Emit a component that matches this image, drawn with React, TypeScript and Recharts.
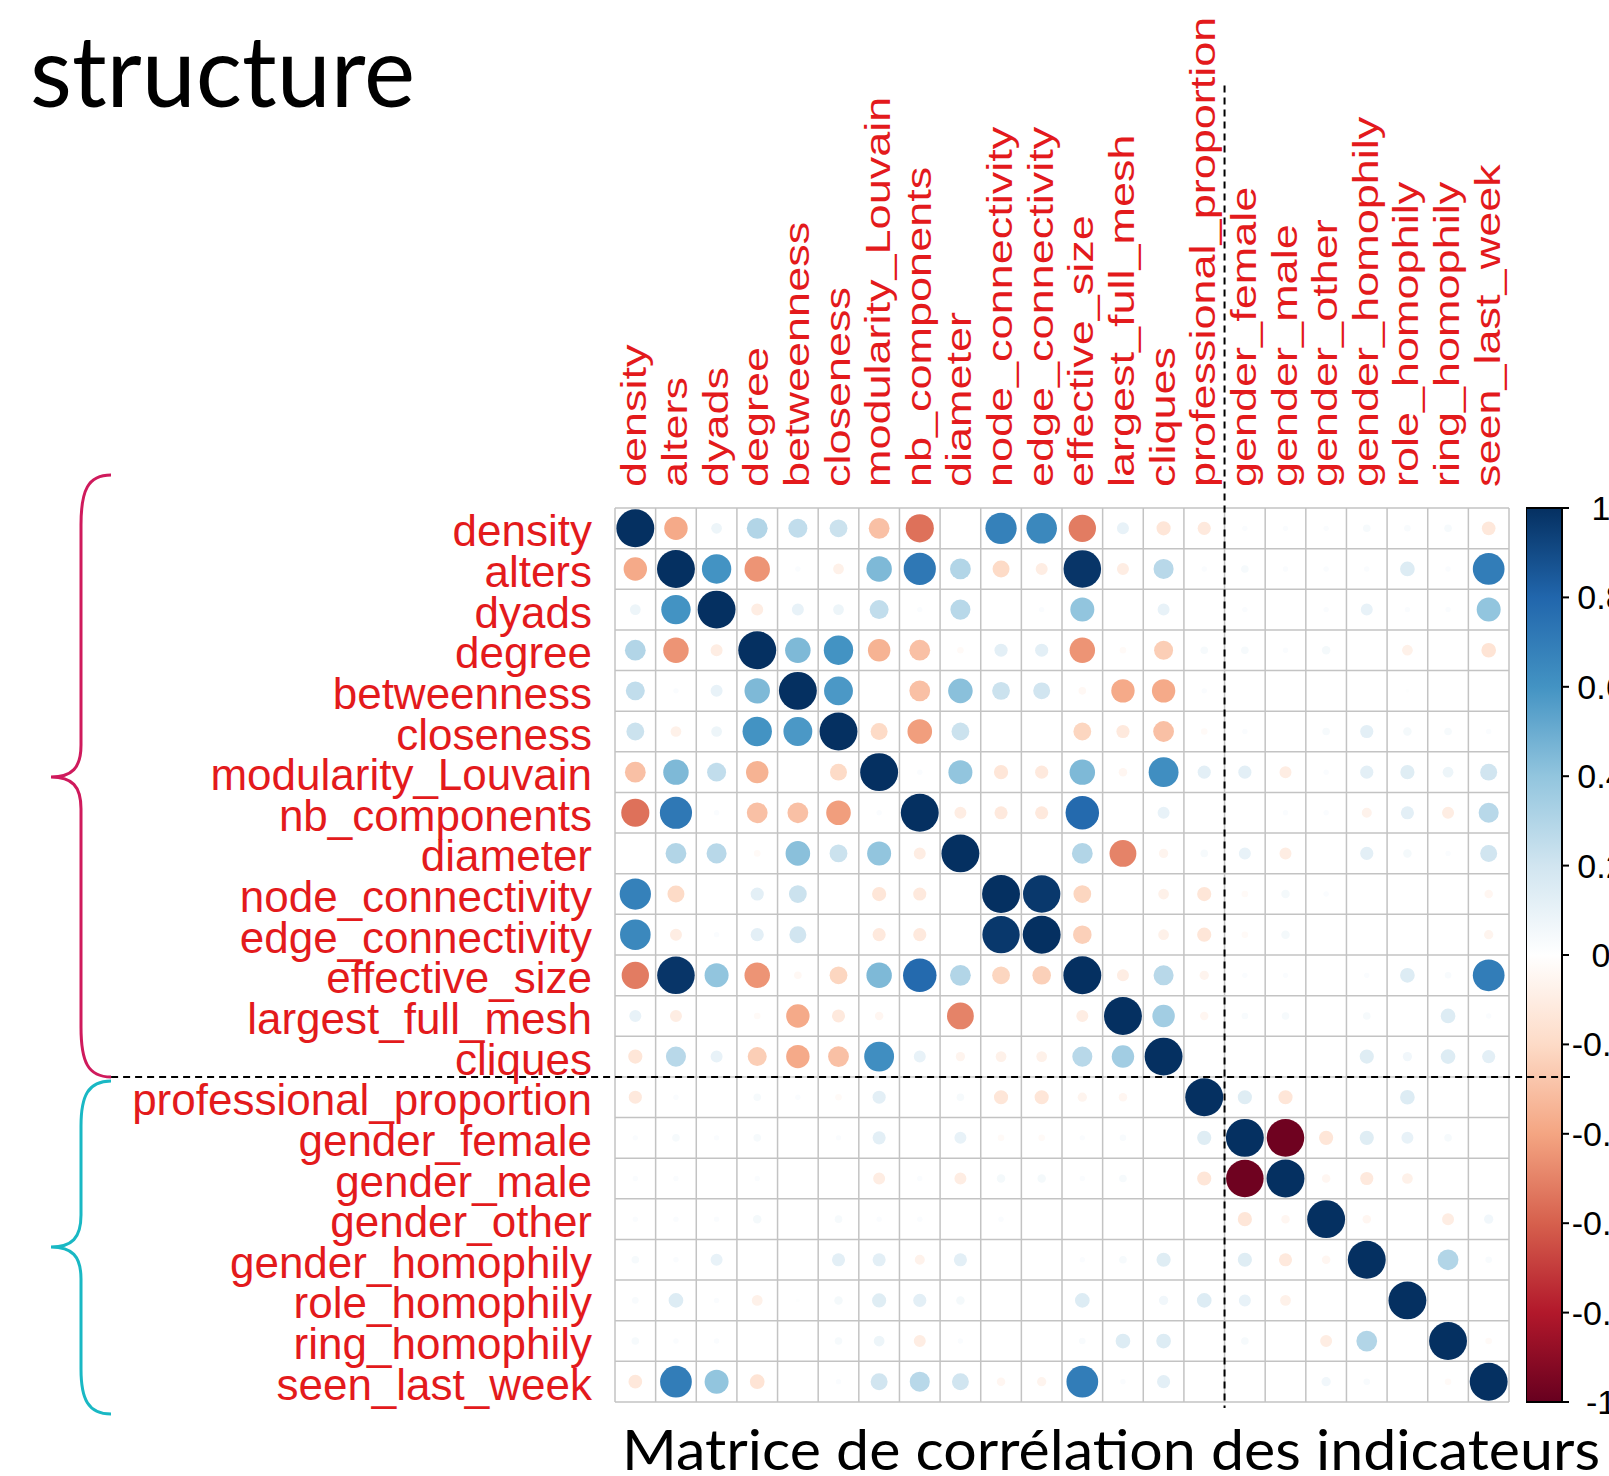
import React from "react";
import {
  ScatterChart,
  Scatter,
  XAxis,
  YAxis,
  ZAxis,
  CartesianGrid,
  ReferenceLine,
  Cell,
  BarChart,
  Bar,
} from "recharts";

const labels = [
  "density",
  "alters",
  "dyads",
  "degree",
  "betweenness",
  "closeness",
  "modularity_Louvain",
  "nb_components",
  "diameter",
  "node_connectivity",
  "edge_connectivity",
  "effective_size",
  "largest_full_mesh",
  "cliques",
  "professional_proportion",
  "gender_female",
  "gender_male",
  "gender_other",
  "gender_homophily",
  "role_homophily",
  "ring_homophily",
  "seen_last_week",
];

// one row of the correlation matrix per indicator
const density = [1, -0.38, 0.08, 0.3, 0.25, 0.22, -0.3, -0.55, 0, 0.68, 0.65, -0.52, 0.1, -0.14, -0.12, 0.02, 0.02, 0.02, 0.04, 0.03, 0.04, -0.13];
const alters = [-0.38, 1, 0.6, -0.45, 0.02, -0.08, 0.45, 0.72, 0.3, -0.2, -0.1, 0.98, -0.1, 0.28, 0.02, 0.04, 0.02, 0.02, 0.02, 0.15, 0.02, 0.7];
const dyads = [0.08, 0.6, 1, -0.1, 0.1, 0.08, 0.25, 0.02, 0.28, 0, 0.02, 0.4, 0, 0.1, 0, 0.02, 0, 0.02, 0.1, 0.02, 0.02, 0.4];
const degree = [0.3, -0.45, -0.1, 1, 0.45, 0.6, -0.35, -0.3, -0.03, 0.12, 0.12, -0.45, -0.03, -0.25, 0.04, 0.04, 0.02, 0.05, 0, -0.08, 0, -0.15];
const betweenness = [0.25, 0.02, 0.1, 0.45, 1, 0.58, 0, -0.3, 0.42, 0.22, 0.2, -0.04, -0.38, -0.38, 0.02, 0, 0, 0, 0, 0.01, 0, 0];
const closeness = [0.22, -0.08, 0.08, 0.6, 0.58, 1, -0.2, -0.42, 0.22, 0, 0, -0.22, -0.12, -0.3, -0.03, 0.02, 0, 0.04, 0.12, 0.05, 0.04, 0.02];
const modularityLouvain = [-0.3, 0.45, 0.25, -0.35, 0, -0.2, 1, 0.02, 0.4, -0.14, -0.12, 0.45, -0.05, 0.62, 0.12, 0.12, -0.1, 0.02, 0.12, 0.14, 0.08, 0.2];
const nbComponents = [-0.55, 0.72, 0.02, -0.3, -0.3, -0.42, 0.02, 1, -0.1, -0.12, -0.12, 0.78, 0, 0.1, 0, 0, 0.02, 0.02, -0.07, 0.12, -0.1, 0.28];
const diameter = [0, 0.3, 0.28, -0.03, 0.42, 0.22, 0.4, -0.1, 1, 0, 0, 0.3, -0.5, -0.06, 0.04, 0.1, -0.1, 0, 0.12, 0.05, 0.02, 0.2];
const nodeConnectivity = [0.68, -0.2, 0, 0.12, 0.22, 0, -0.14, -0.12, 0, 1, 0.97, -0.22, 0, -0.08, -0.14, -0.03, 0.05, 0.02, 0, 0, 0, -0.05];
const edgeConnectivity = [0.65, -0.1, 0.02, 0.12, 0.2, 0, -0.12, -0.12, 0, 0.97, 1, -0.24, 0, -0.08, -0.14, -0.03, 0.05, 0, 0, 0, 0, -0.06];
const effectiveSize = [-0.52, 0.98, 0.4, -0.45, -0.04, -0.22, 0.45, 0.78, 0.3, -0.22, -0.24, 1, -0.1, 0.28, -0.06, 0.02, 0.02, 0, 0.02, 0.15, 0.03, 0.7];
const largestFullMesh = [0.1, -0.1, 0, -0.03, -0.38, -0.12, -0.05, 0, -0.5, 0, 0, -0.1, 1, 0.35, -0.05, 0.03, 0.04, 0, 0.04, 0, 0.15, 0.02];
const cliques = [-0.14, 0.28, 0.1, -0.25, -0.38, -0.3, 0.62, 0.1, -0.06, -0.08, -0.08, 0.28, 0.35, 1, 0, 0, 0, 0, 0.14, 0.06, 0.15, 0.12];
const professionalProportion = [-0.12, 0.02, 0, 0.04, 0.02, -0.03, 0.12, 0, 0.04, -0.14, -0.14, -0.06, -0.05, 0, 1, 0.14, -0.14, 0, 0, 0.15, 0, 0];
const genderFemale = [0.02, 0.04, 0.02, 0.04, 0, 0.02, 0.12, 0, 0.1, -0.03, -0.03, 0.02, 0.03, 0, 0.14, 1, -0.98, -0.14, 0.14, 0.1, 0.04, 0];
const genderMale = [0.02, 0.02, 0, 0.02, 0, 0, -0.1, 0.02, -0.1, 0.05, 0.05, 0.02, 0.04, 0, -0.14, -0.98, 1, -0.05, -0.12, -0.08, 0, 0];
const genderOther = [0.02, 0.02, 0.02, 0.05, 0, 0.04, 0.02, 0.02, 0, 0.02, 0, 0, 0, 0, 0, -0.14, -0.05, 1, -0.05, 0, -0.1, 0.06];
const genderHomophily = [0.04, 0.02, 0.1, 0, 0, 0.12, 0.12, -0.07, 0.12, 0, 0, 0.02, 0.04, 0.14, 0, 0.14, -0.12, -0.05, 1, 0, 0.3, 0.03];
const roleHomophily = [0.03, 0.15, 0.02, -0.08, 0.01, 0.05, 0.14, 0.12, 0.05, 0, 0, 0.15, 0, 0.06, 0.15, 0.1, -0.08, 0, 0, 1, 0, 0];
const ringHomophily = [0.04, 0.02, 0.02, 0, 0, 0.04, 0.08, -0.1, 0.02, 0, 0, 0.03, 0.15, 0.15, 0, 0.04, 0, -0.1, 0.3, 0, 1, -0.03];
const seenLastWeek = [-0.13, 0.7, 0.4, -0.15, 0, 0.02, 0.2, 0.28, 0.2, -0.05, -0.06, 0.7, 0.02, 0.12, 0, 0, 0, 0.06, 0.03, 0, -0.03, 1];

const rows = [
  density, alters, dyads, degree, betweenness, closeness, modularityLouvain,
  nbComponents, diameter, nodeConnectivity, edgeConnectivity, effectiveSize,
  largestFullMesh, cliques, professionalProportion, genderFemale, genderMale,
  genderOther, genderHomophily, roleHomophily, ringHomophily, seenLastWeek,
];

const legendTicks = [-1, -0.8, -0.6, -0.4, -0.2, 0, 0.2, 0.4, 0.6, 0.8, 1];
const palette = ["#67001F", "#B2182B", "#D6604D", "#F4A582", "#FDDBC7", "#FFFFFF", "#D1E5F0", "#92C5DE", "#4393C3", "#2166AC", "#053061"];

const LABEL_RED = "#e31a1c";
const ARIAL = "'Liberation Sans', Arial, sans-serif";

const positions = labels.map((_, i) => i);
const cellEdges = [...positions.map((i) => i - 0.5), labels.length - 0.5];
const domain: [number, number] = [-0.5, labels.length - 0.5];

function hexRgb(h: string) {
  const n = parseInt(h.slice(1), 16);
  return [(n >> 16) & 255, (n >> 8) & 255, n & 255];
}

function corrColor(r: number) {
  const t = ((r + 1) / 2) * (palette.length - 1);
  const i = Math.min(Math.floor(t), palette.length - 2);
  const f = t - i;
  const a = hexRgb(palette[i]);
  const b = hexRgb(palette[i + 1]);
  const c = a.map((v, k) => Math.round(v + (b[k] - v) * f));
  return `rgb(${c[0]},${c[1]},${c[2]})`;
}

const points = rows.flatMap((row, i) =>
  row.map((r, j) => ({ col: j, row: i, size: Math.abs(r), r }))
);

const legendData = [{ name: "corr", range: [-1, 1] }];

const RowTick = (props: any) => (
  <text
    x={props.x + 37}
    y={props.y}
    dy={18}
    textAnchor="end"
    fontSize={44}
    fontFamily={ARIAL}
    fill={LABEL_RED}
  >
    {labels[props.payload.value]}
  </text>
);

const ColTick = (props: any) => (
  <text
    transform={`translate(${props.x + 11},${props.y - 21}) rotate(-90) scale(1,0.79)`}
    textAnchor="start"
    fontSize={45}
    fontFamily={ARIAL}
    fill={LABEL_RED}
  >
    {labels[props.payload.value]}
  </text>
);

const LegendTick = (props: any) => (
  <text
    x={props.x + 30}
    y={props.y}
    dy={12}
    textAnchor="middle"
    fontSize={34}
    fontFamily={ARIAL}
    fill="#000"
  >
    {props.payload.value}
  </text>
);

export default function App() {
  return (
    <div
      style={{
        position: "fixed",
        left: 0,
        top: 0,
        width: 1609,
        height: 1476,
        overflow: "hidden",
        background: "#fff",
      }}
    >
      {/* colour legend */}
      <div style={{ position: "absolute", left: 1526, top: 488 }}>
        <BarChart
          width={83}
          height={934}
          data={legendData}
          margin={{ top: 20, right: 0, bottom: 20, left: 0 }}
          barCategoryGap={0}
        >
          <defs>
            <linearGradient id="rdbu" x1="0" y1="1" x2="0" y2="0">
              {palette.map((c, i) => (
                <stop key={c} offset={i / (palette.length - 1)} stopColor={c} />
              ))}
            </linearGradient>
          </defs>
          <XAxis dataKey="name" hide />
          <YAxis
            orientation="right"
            type="number"
            domain={[-1, 1]}
            ticks={legendTicks}
            interval={0}
            width={47}
            axisLine={false}
            tickLine={{ stroke: "#000", strokeWidth: 2 }}
            tickSize={7}
            tick={LegendTick}
          />
          <Bar
            dataKey="range"
            fill="url(#rdbu)"
            stroke="#000"
            strokeWidth={2}
            isAnimationActive={false}
          />
        </BarChart>
      </div>

      {/* correlation matrix */}
      <div style={{ position: "absolute", left: 0, top: 0 }}>
        <ScatterChart
          width={1609}
          height={1476}
          margin={{ top: 0, right: 100, bottom: 74, left: 0 }}
        >
          <XAxis
            xAxisId="lab"
            type="number"
            dataKey="col"
            orientation="top"
            height={508}
            domain={domain}
            ticks={positions}
            interval={0}
            allowDataOverflow
            axisLine={false}
            tickLine={false}
            tickSize={0}
            tickMargin={0}
            tick={ColTick}
          />
          <XAxis
            xAxisId="grid"
            type="number"
            dataKey="col"
            hide
            domain={domain}
            ticks={cellEdges}
            interval={0}
            allowDataOverflow
          />
          <YAxis
            yAxisId="lab"
            type="number"
            dataKey="row"
            width={615}
            reversed
            domain={domain}
            ticks={positions}
            interval={0}
            allowDataOverflow
            axisLine={false}
            tickLine={false}
            tickSize={0}
            tickMargin={0}
            tick={RowTick}
          />
          <YAxis
            yAxisId="grid"
            type="number"
            dataKey="row"
            hide
            reversed
            domain={domain}
            ticks={cellEdges}
            interval={0}
            allowDataOverflow
          />
          <ZAxis dataKey="size" type="number" domain={[0, 1]} range={[0, 1130]} scale="linear" />
          <CartesianGrid
            xAxisId="grid"
            yAxisId="grid"
            stroke="#c3c3c3"
            strokeWidth={1.5}
          />
          <Scatter
            data={points}
            xAxisId="grid"
            yAxisId="grid"
            shape="circle"
            isAnimationActive={false}
          >
            {points.map((p, k) => (
              <Cell key={k} fill={corrColor(p.r)} />
            ))}
          </Scatter>
          <ReferenceLine
            xAxisId="grid"
            yAxisId="grid"
            ifOverflow="visible"
            segment={[
              { x: 14.5, y: -10.9 },
              { x: 14.5, y: 21.65 },
            ]}
            stroke="#000"
            strokeWidth={2}
            strokeDasharray="7 5"
          />
          <ReferenceLine
            xAxisId="grid"
            yAxisId="grid"
            ifOverflow="visible"
            segment={[
              { x: -12.9, y: 13.5 },
              { x: 23.0, y: 13.5 },
            ]}
            stroke="#000"
            strokeWidth={2}
            strokeDasharray="7 5"
          />
        </ScatterChart>
      </div>

      {/* slide decorations */}
      <svg
        width={1609}
        height={1476}
        style={{ position: "absolute", left: 0, top: 0, pointerEvents: "none" }}
      >
        <text
          x={30}
          y={107}
          fontSize={99}
          fontFamily="Lato, 'Open Sans', sans-serif"
          textLength={385}
          lengthAdjust="spacingAndGlyphs"
          fill="#000"
        >
          structure
        </text>
        <text
          x={622}
          y={1470}
          fontSize={56}
          fontFamily="Lato, 'Open Sans', sans-serif"
          textLength={978}
          lengthAdjust="spacingAndGlyphs"
          fill="#000"
        >
          Matrice de corrélation des indicateurs
        </text>
        <path
          d="M111,475 C88,475 81,490 81,525 L81,745 C81,768 72,777 51,777 C72,777 81,786 81,809 L81,1027 C81,1062 88,1077 111,1077"
          fill="none"
          stroke="#cf1a5c"
          strokeWidth={3}
        />
        <path
          d="M111,1081 C88,1081 81,1096 81,1126 L81,1215 C81,1238 72,1247 51,1247 C72,1247 81,1256 81,1279 L81,1369 C81,1399 88,1414 111,1414"
          fill="none"
          stroke="#19b8c4"
          strokeWidth={3}
        />
      </svg>
    </div>
  );
}
